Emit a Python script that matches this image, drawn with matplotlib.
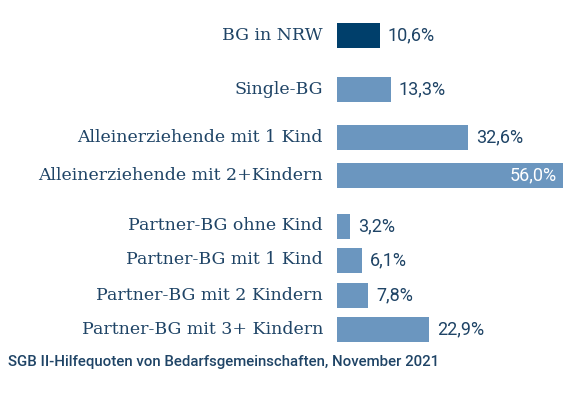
import matplotlib
matplotlib.use("Agg")
import matplotlib.pyplot as plt

categories = ["BG in NRW", "Single-BG", "Alleinerziehende mit 1 Kind",
              "Alleinerziehende mit 2+Kindern", "Partner-BG ohne Kind",
              "Partner-BG mit 1 Kind", "Partner-BG mit 2 Kindern",
              "Partner-BG mit 3+ Kindern"]
values = [10.6, 13.3, 32.6, 56.0, 3.2, 6.1, 7.8, 22.9]
footer = "SGB II-Hilfequoten von Bedarfsgemeinschaften, November 2021"

# layout (pixel rows of the bars)
ypos = [35, 89, 137, 175, 226, 260, 295, 329]
dark = "#003f6b"
light = "#6b96bf"
textc = "#1f4466"

fig = plt.figure(figsize=(5.76, 3.99), dpi=100)
ax = fig.add_axes([337 / 576, 0, 1 - 337 / 576, 1])
ax.set_xlim(0, 239 / 4.03)
ax.set_ylim(399, 0)
ax.axis("off")

colors = [dark] + [light] * (len(values) - 1)
ax.barh(ypos, values, height=25, color=colors, left=0)

for y, v, c in zip(ypos, values, categories):
    lab = f"{v:.1f}%".replace(".", ",")
    if v > 50:
        ax.text(v - 1.5, y, lab, ha="right", va="center", color="white",
                fontsize=13, family="Roboto")
    else:
        ax.text(v + 2.0, y, lab, ha="left", va="center", color=textc,
                fontsize=13, family="Roboto")
    ax.text(-3.5, y, c, ha="right", va="center", color=textc,
            fontsize=12.5, family="DejaVu Serif", clip_on=False)

fig.text(8 / 576, 1 - 362 / 399, footer, ha="left", va="center", color=textc,
         fontsize=10.8, family="Roboto", fontweight="medium")

fig.savefig("out.png", dpi=100)
